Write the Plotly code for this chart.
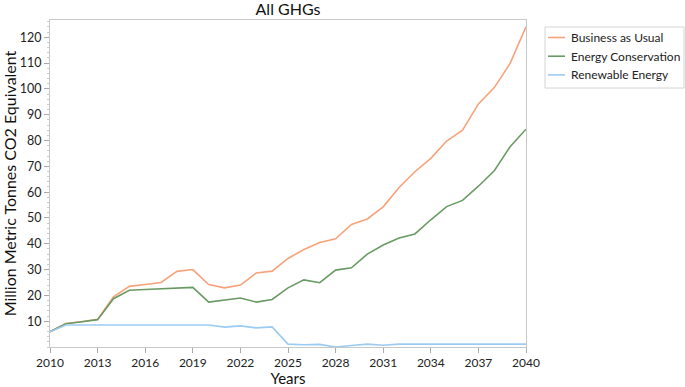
import plotly.graph_objects as go

years = list(range(2010, 2041))
business_as_usual = [5.9, 9.1, 9.8, 10.7, 19.4, 23.5, 24.2, 25.0, 29.3, 30.0,
                     24.2, 22.9, 24.0, 28.7, 29.4, 34.3, 37.8, 40.5, 41.9, 47.5,
                     49.6, 54.3, 61.8, 67.9, 73.1, 79.8, 84.0, 94.2, 100.5, 109.9, 124.1]
energy_conservation = [5.9, 9.0, 9.8, 10.6, 18.7, 22.0, 22.3, 22.6, 22.8, 23.1,
                       17.4, 18.1, 19.0, 17.4, 18.4, 22.9, 26.0, 24.9, 29.8, 30.7,
                       36.0, 39.5, 42.2, 43.8, 49.3, 54.4, 56.8, 62.3, 68.3, 77.6, 84.4]
renewable_energy = [5.9, 8.5, 8.5, 8.5, 8.5, 8.5, 8.5, 8.5, 8.5, 8.5,
                    8.5, 7.7, 8.2, 7.4, 7.8, 1.1, 0.9, 1.0, 0.0, 0.6,
                    1.1, 0.7, 1.1, 1.1, 1.1, 1.0, 1.1, 1.1, 1.1, 1.1, 1.1]
series_names = ["Business as Usual", "Energy Conservation", "Renewable Energy"]
series_colors = ["#F7A27A", "#6A9A64", "#9CCBF2"]
x_ticks = list(range(2010, 2041, 3))
y_ticks = list(range(10, 121, 10))

W, H = 685, 387
L, R, T, B = 50, 526, 20, 347   # plot area in pixels


def px_x(px):
    return (px - L) / (R - L)


def px_y(py):
    return (B - py) / (B - T)


fig = go.Figure()
for name, vals, col in zip(series_names,
                           [business_as_usual, energy_conservation, renewable_energy],
                           series_colors):
    fig.add_trace(go.Scatter(x=years, y=vals, mode="lines", name=name,
                             line=dict(color=col, width=1.6), showlegend=False))

font_family = "Lato, Open Sans, DejaVu Sans, sans-serif"

# legend box drawn in paper coordinates
shapes = [dict(type="rect", xref="paper", yref="paper",
               x0=px_x(545), x1=px_x(684), y0=px_y(88), y1=px_y(27),
               line=dict(color="#d4d4d4", width=1), fillcolor="white", layer="above")]
annotations = []
for i, (name, col) in enumerate(zip(series_names, series_colors)):
    yc = 37.5 + i * 18.7
    shapes.append(dict(type="line", xref="paper", yref="paper",
                       x0=px_x(548), x1=px_x(565), y0=px_y(yc), y1=px_y(yc),
                       line=dict(color=col, width=1.6)))
    annotations.append(dict(text=name, xref="paper", yref="paper",
                            x=px_x(569), y=px_y(yc), xanchor="left", yanchor="middle",
                            showarrow=False, font=dict(size=12, color="#222")))

fig.update_layout(
    width=W, height=H,
    margin=dict(l=L, r=W - R, t=T, b=H - B, autoexpand=False),
    paper_bgcolor="white", plot_bgcolor="white",
    font=dict(family=font_family, size=12, color="#222"),
    title=dict(text="All GHGs", x=(L + R) / 2 / W, xanchor="center",
               y=1 - 9 / H, yanchor="middle", font=dict(size=16, color="#111")),
    showlegend=False,
    shapes=shapes,
    annotations=annotations,
)
fig.update_xaxes(
    range=[2010, 2040], tickvals=x_ticks, ticktext=[str(v) for v in x_ticks],
    ticks="outside", ticklen=5, tickcolor="#aaa", automargin=False,
    showline=True, linecolor="#c8c8c8", linewidth=1, mirror=True,
    showgrid=False, zeroline=False,
    title=dict(text="Years", font=dict(size=15, color="#111"), standoff=6),
    tickfont=dict(size=12, color="#222"),
)
fig.update_yaxes(
    range=[0, 126.7], tickvals=y_ticks,
    ticks="outside", ticklen=5, tickcolor="#aaa", automargin=False,
    minor=dict(ticks="outside", ticklen=2, dtick=2, tickcolor="#ccc", showgrid=False),
    showline=True, linecolor="#c8c8c8", linewidth=1, mirror=True,
    showgrid=False, zeroline=False,
    title=dict(text="Million Metric Tonnes CO2 Equivalent", font=dict(size=16, color="#111"), standoff=4),
    tickfont=dict(size=12.5, color="#222"),
)

fig.write_html("out.html", config={"displayModeBar": False},
               post_script="document.body.style.margin='0';")
